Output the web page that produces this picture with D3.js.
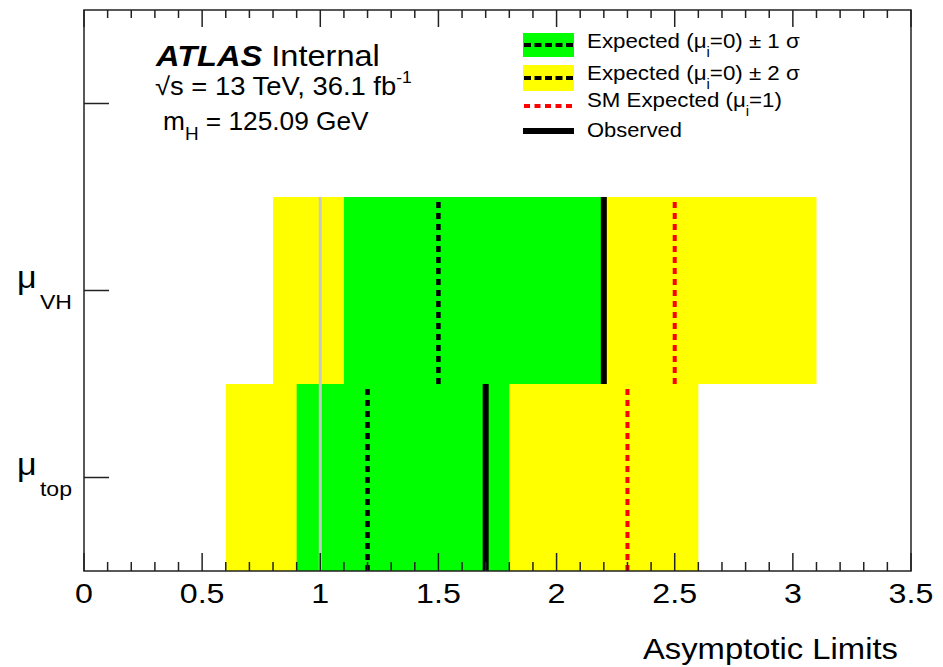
<!DOCTYPE html>
<html>
<head>
<meta charset="utf-8">
<script src="https://cdn.jsdelivr.net/npm/d3@7"></script>
<style>
  html, body { margin: 0; padding: 0; background: #fff; }
  svg { display: block; }
  text { font-family: "Liberation Sans", Arial, Helvetica, sans-serif; fill: #000; }
</style>
</head>
<body>
<svg id="chart" width="943" height="667"></svg>
<script>
// ---------------- data ----------------
const categories = ["VH", "top"];
const categoryLabels = ["VH", "top"];
const expected = [1.5, 1.2];          // Expected (mu_i=0)
const minus1 = [1.1, 0.9];
const plus1  = [2.2, 1.8];
const minus2 = [0.8, 0.6];
const plus2  = [3.1, 2.6];
const smExpected = [2.5, 2.3];        // SM expected (mu_i=1)
const observed = [2.2, 1.7];
const xTicks = [0, 0.5, 1, 1.5, 2, 2.5, 3, 3.5];
const xTickLabels = ["0", "0.5", "1", "1.5", "2", "2.5", "3", "3.5"];
const refLine = 1;

// ---------------- layout ----------------
const svg = d3.select("#chart");
const L = 84, R = 911, T = 10, B = 571;

const x = d3.scaleLinear().domain([0, 3.5]).range([L, R]);
const y = d3.scaleBand().domain(["", ...categories]).range([T, B]).padding(0);

// stretch a text horizontally so that it spans [x0, x0 + w]
function fit(sel, x0, w) {
  const bb = sel.node().getBBox();
  const s = w / bb.width;
  sel.attr("transform", `translate(${x0},0) scale(${s},1) translate(${-bb.x},0)`);
}

const rows = categories.map((c, i) => ({
  cat: c, exp: expected[i], m1: minus1[i], p1: plus1[i],
  m2: minus2[i], p2: plus2[i], sm: smExpected[i], obs: observed[i]
}));

const g = svg.append("g");

// 2 sigma bands
g.selectAll(".b2").data(rows).join("rect")
  .attr("x", d => x(d.m2)).attr("width", d => x(d.p2) - x(d.m2))
  .attr("y", d => y(d.cat)).attr("height", y.bandwidth())
  .attr("fill", "#ffff00");
// 1 sigma bands
g.selectAll(".b1").data(rows).join("rect")
  .attr("x", d => x(d.m1)).attr("width", d => x(d.p1) - x(d.m1))
  .attr("y", d => y(d.cat)).attr("height", y.bandwidth())
  .attr("fill", "#00ff00");

// reference line at mu = 1
g.append("line")
  .attr("x1", x(refLine)).attr("x2", x(refLine))
  .attr("y1", y(categories[0])).attr("y2", B)
  .attr("stroke", "#c8c8c8").attr("stroke-width", 3);

// expected (dashed black)
g.selectAll(".exp").data(rows).join("line")
  .attr("x1", d => x(d.exp)).attr("x2", d => x(d.exp))
  .attr("y1", d => y(d.cat) + 5).attr("y2", d => y(d.cat) + y.bandwidth())
  .attr("stroke", "#000").attr("stroke-width", 4.5).attr("stroke-dasharray", "6,5");

// SM expected (dashed red)
g.selectAll(".sm").data(rows).join("line")
  .attr("x1", d => x(d.sm)).attr("x2", d => x(d.sm))
  .attr("y1", d => y(d.cat) + 5).attr("y2", d => y(d.cat) + y.bandwidth())
  .attr("stroke", "#ff0000").attr("stroke-width", 4).attr("stroke-dasharray", "6,5");

// observed (solid black)
g.selectAll(".obs").data(rows).join("line")
  .attr("x1", d => x(d.obs)).attr("x2", d => x(d.obs))
  .attr("y1", d => y(d.cat)).attr("y2", d => y(d.cat) + y.bandwidth())
  .attr("stroke", "#000").attr("stroke-width", 6);

// ---------------- axes ----------------
const minorTicks = d3.range(0, 36).map(i => i / 10).filter(v => Math.abs(v * 2 - Math.round(v * 2)) > 1e-6);

const axisG = svg.append("g").attr("stroke", "#222").attr("stroke-width", 1.5);
// bottom
axisG.selectAll(".bM").data(xTicks).join("line")
  .attr("x1", d => x(d)).attr("x2", d => x(d)).attr("y1", B).attr("y2", B - 18);
axisG.selectAll(".bm").data(minorTicks).join("line")
  .attr("x1", d => x(d)).attr("x2", d => x(d)).attr("y1", B).attr("y2", B - 9);
// top
axisG.selectAll(".tM").data(xTicks).join("line")
  .attr("x1", d => x(d)).attr("x2", d => x(d)).attr("y1", T).attr("y2", T + 17);
axisG.selectAll(".tm").data(minorTicks).join("line")
  .attr("x1", d => x(d)).attr("x2", d => x(d)).attr("y1", T).attr("y2", T + 8);
// left
axisG.selectAll(".lt").data(y.domain()).join("line")
  .attr("x1", L).attr("x2", L + 25)
  .attr("y1", d => y(d) + y.bandwidth() / 2).attr("y2", d => y(d) + y.bandwidth() / 2);

// frame
svg.append("rect").attr("x", L).attr("y", T).attr("width", R - L).attr("height", B - T)
  .attr("fill", "none").attr("stroke", "#222").attr("stroke-width", 1.5);

// x tick labels (slightly wide glyphs as in the reference)
svg.selectAll(".xl").data(xTicks).join("text")
  .attr("x", d => x(d)).attr("y", 603)
  .attr("text-anchor", "middle").attr("font-size", 28)
  .attr("transform", d => `translate(${x(d)},0) scale(1.15,1) translate(${-x(d)},0)`)
  .text((d, i) => xTickLabels[i]);

// x title
const xt = svg.append("text").attr("x", 0).attr("y", 659)
  .attr("font-size", 29).text("Asymptotic Limits");
fit(xt, 643, 255);

// y labels
categories.forEach((c, i) => {
  const yc = y(c) + y.bandwidth() / 2;
  const t = svg.append("text").attr("x", 0).attr("y", yc - 2).attr("font-size", 31);
  t.append("tspan").text("μ");
  t.append("tspan").attr("dy", 21).attr("dx", 3).attr("font-size", 21).text(categoryLabels[i]);
  fit(t, 17, 55);
});

// ---------------- labels ----------------
const atl = svg.append("text").attr("x", 0).attr("y", 66).attr("font-size", 30);
atl.append("tspan").attr("font-weight", "bold").attr("font-style", "italic").text("ATLAS");
atl.append("tspan").text(" Internal");
fit(atl, 155, 225);

const en = svg.append("text").attr("x", 0).attr("y", 95).attr("font-size", 25);
en.append("tspan").text("√s = 13 TeV, 36.1 fb");
en.append("tspan").attr("dy", -12).attr("font-size", 16).text("-1");
fit(en, 155, 257);

const mh = svg.append("text").attr("x", 0).attr("y", 130).attr("font-size", 25);
mh.append("tspan").text("m");
mh.append("tspan").attr("dy", 10).attr("font-size", 18).text("H");
mh.append("tspan").attr("dy", -10).text(" = 125.09 GeV");
fit(mh, 163, 206);

// ---------------- legend ----------------
const lx0 = 523, lx1 = 574;
svg.append("rect").attr("x", lx0).attr("y", 33).attr("width", lx1 - lx0).attr("height", 24).attr("fill", "#00ff00");
svg.append("rect").attr("x", lx0).attr("y", 65).attr("width", lx1 - lx0).attr("height", 26).attr("fill", "#ffff00");
[45, 78].forEach(yy => svg.append("line").attr("x1", lx0 + 1).attr("x2", lx1)
  .attr("y1", yy).attr("y2", yy).attr("stroke", "#000").attr("stroke-width", 4).attr("stroke-dasharray", "7,3.5"));
svg.append("line").attr("x1", lx0 + 1).attr("x2", lx1).attr("y1", 106).attr("y2", 106)
  .attr("stroke", "#ff0000").attr("stroke-width", 4).attr("stroke-dasharray", "6,4.5");
svg.append("line").attr("x1", lx0).attr("x2", lx1).attr("y1", 131).attr("y2", 131)
  .attr("stroke", "#000").attr("stroke-width", 6);

function legText(yb, w, pre, sub, post) {
  const t = svg.append("text").attr("x", 0).attr("y", yb).attr("font-size", 21);
  t.append("tspan").text(pre);
  if (sub) {
    t.append("tspan").attr("dy", 9).attr("font-size", 14).text(sub);
    t.append("tspan").attr("dy", -9).text(post);
  }
  fit(t, 587, w);
}
legText(48, 213, "Expected (μ", "i", "=0) ± 1 σ");
legText(80, 213, "Expected (μ", "i", "=0) ± 2 σ");
legText(107, 195, "SM Expected (μ", "i", "=1)");
legText(137, 95, "Observed");
</script>
</body>
</html>
